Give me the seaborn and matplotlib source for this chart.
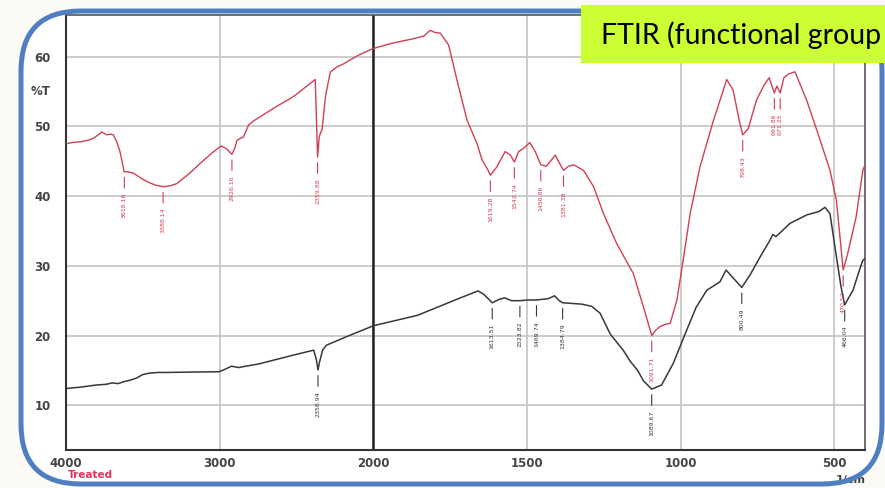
import numpy as np
import pandas as pd
import seaborn as sns
import matplotlib.pyplot as plt
from matplotlib.patches import FancyBboxPatch, Rectangle

# spectrum: wavenumber (1/cm) and %T
red_wn = [4000, 3960, 3909, 3860, 3822, 3790, 3768, 3750, 3735, 3712, 3692, 3670, 3650, 3637,
          3622, 3600, 3561, 3520, 3474, 3420, 3366, 3320, 3279, 3200, 3127, 3050, 2990, 2955,
          2920, 2900, 2888, 2865, 2845, 2812, 2780, 2736, 2650, 2519, 2450, 2378, 2370, 2363,
          2352, 2340, 2334, 2310, 2280, 2240, 2193, 2100, 2000, 1934, 1869, 1835, 1815, 1800,
          1782, 1755, 1728, 1695, 1663, 1646, 1630, 1619, 1598, 1571, 1554, 1541, 1527, 1510,
          1491, 1473, 1455, 1437, 1420, 1408, 1395, 1381, 1365, 1348, 1316, 1283, 1251, 1208,
          1154, 1121, 1094, 1080, 1067, 1050, 1034, 1012, 990, 969, 937, 893, 870, 850, 829,
          810, 798, 780, 753, 730, 712, 695, 687, 676, 664, 650, 628, 590, 546, 514, 493, 480,
          471, 456, 429, 407, 400]
red_T = [47.5, 47.7, 47.8, 48.0, 48.3, 48.8, 49.2, 49.0, 48.8, 48.9, 48.8, 47.8, 46.5, 45.2,
         43.5, 43.5, 43.3, 42.7, 42.1, 41.6, 41.35, 41.5, 41.8, 43.2, 44.7, 46.2, 47.2, 46.8,
         46.0, 47.0, 48.0, 48.3, 48.5, 50.2, 50.8, 51.4, 52.6, 54.3, 55.5, 56.75, 51.0, 45.6,
         48.5, 49.3, 49.5, 54.5, 57.8, 58.5, 59.0, 60.2, 61.2, 62.0, 62.6, 63.0, 63.8, 63.5,
         63.4, 61.7, 56.7, 50.9, 47.6, 45.2, 44.0, 43.0, 44.2, 46.4, 45.9, 44.9, 46.4, 46.9,
         47.7, 46.4, 44.5, 44.3, 45.2, 45.9, 44.8, 43.7, 44.3, 44.5, 43.7, 41.35, 37.5, 33.2,
         28.9, 24.1, 20.0, 20.8, 21.3, 21.6, 21.75, 25.1, 31.3, 37.5, 44.2, 50.9, 54.0, 56.75, 55.2,
         51.0, 48.8, 49.7, 53.8, 55.8, 57.0, 54.8, 55.8, 54.8, 57.0, 57.5, 57.85, 53.8, 48.05, 43.7, 39.4, 33.5,
         29.4, 31.8, 37.0, 43.7, 44.5]

black_wn = [4000, 3900, 3853, 3800, 3737, 3700, 3660, 3620, 3580, 3540, 3500, 3457, 3400, 3341,
            3200, 3004, 2960, 2923, 2900, 2876, 2830, 2750, 2643, 2500, 2388, 2370, 2360, 2350,
            2330, 2306, 2178, 2000, 1856, 1717, 1659, 1640, 1613, 1590, 1572, 1550, 1523, 1496,
            1469, 1430, 1410, 1395, 1384, 1321, 1290, 1262, 1229, 1187, 1164, 1140, 1121, 1094,
            1062, 1024, 980, 950, 915, 872, 852, 834, 801, 774, 741, 709, 700, 690, 676, 644,
            590, 550, 530, 514, 493, 478, 466, 452, 439, 418, 407, 400]
black_T = [12.4, 12.6, 12.75, 12.9, 13.0, 13.2, 13.1, 13.4, 13.6, 13.9, 14.4, 14.6, 14.7, 14.7,
           14.75, 14.8, 15.2, 15.6, 15.5, 15.4, 15.6, 15.9, 16.5, 17.3, 17.9, 16.5, 15.05, 16.2,
           17.9, 18.6, 19.8, 21.4, 22.9, 25.4, 26.4, 25.9, 24.7, 25.2, 25.4, 25.0, 25.0, 25.1,
           25.1, 25.3, 25.7, 25.0, 24.7, 24.5, 24.2, 23.2, 20.2, 17.9, 16.3, 15.0, 13.5, 12.3,
           12.9, 16.0, 20.8, 24.0, 26.5, 27.7, 29.4, 28.5, 26.9, 28.7, 31.3, 33.7, 34.5, 34.2, 34.75, 36.1,
           37.3, 37.8, 38.4, 37.5, 31.3, 27.0, 24.4, 25.5, 26.5, 29.4, 30.8, 31.0]

# peak labels
red_peak_wn = [3620, 3368, 2920, 2363, 1619, 1541, 1455, 1381, 1094, 798, 695, 676, 471]
red_peak_T = [43.5, 41.35, 46.0, 45.6, 43.0, 44.9, 44.5, 43.7, 20.0, 48.8, 54.8, 54.8, 29.4]
red_peak_txt = ["3618.16", "3388.14", "2926.16", "2359.88", "1619.28", "1542.74", "1456.86",
                "1381.38", "1091.71", "798.43", "691.86", "671.25", "470.52"]
black_peak_wn = [2360, 1613, 1523, 1469, 1384, 1094, 801, 466]
black_peak_T = [15.05, 24.7, 25.0, 25.1, 24.7, 12.3, 26.9, 24.4]
black_peak_txt = ["2358.94", "1613.51", "1523.82", "1469.74", "1384.79", "1089.67", "800.49", "466.04"]

x_major = [4000, 3000, 2000, 1500, 1000, 500]
y_major = [10, 20, 30, 40, 50, 60]

red = "#d23f55"
black = "#383838"

sns.set_style("white")
plt.rcParams["font.family"] = ["DejaVu Sans"]

fig = plt.figure(figsize=(8.85, 4.88), dpi=100, facecolor="#fcfaf5")

# slide frame
fill = FancyBboxPatch((0.21, 0.04), 8.61, 4.73, boxstyle="round,pad=0,rounding_size=0.6",
                      transform=fig.dpi_scale_trans, facecolor="white", edgecolor="none", zorder=-2)
fig.add_artist(fill)

ax = fig.add_axes([66 / 885, 1 - 450 / 488, 799 / 885, 435 / 488])
ax.set_facecolor("white")


# spectrometer axis: scale doubles below 2000 1/cm
def fwd(x):
    x = np.asarray(x, dtype=float)
    return np.where(x >= 2000, x, 2 * x - 2000)


def inv(u):
    u = np.asarray(u, dtype=float)
    return np.where(u >= 2000, u, (u + 2000) / 2)


ax.set_xscale("function", functions=(fwd, inv))

df_red = pd.DataFrame({"wn": red_wn, "T": red_T})
df_black = pd.DataFrame({"wn": black_wn, "T": black_T})
sns.lineplot(data=df_red, x="wn", y="T", color=red, lw=1.0, estimator=None, sort=False, ax=ax, zorder=3)
sns.lineplot(data=df_black, x="wn", y="T", color=black, lw=1.1, estimator=None, sort=False, ax=ax, zorder=3)

ax.set_xlim(4000, 400)
ax.set_ylim(3.57, 66)

ax.set_xticks(x_major)
ax.set_xticklabels([str(v) for v in x_major])
ax.set_xticks(list(range(3800, 2000, -200)) + list(range(1900, 400, -100)), minor=True)
ax.set_yticks(y_major)
ax.set_yticks(list(range(4, 67, 2)), minor=True)

ax.tick_params(axis="x", which="both", direction="inout", length=6, width=1.2, color="#444",
               labelsize=8.5, labelcolor="#444", pad=2)
ax.tick_params(axis="y", which="major", direction="out", length=9, width=1.2, color="#444",
               labelsize=8.5, labelcolor="#444", pad=2)
ax.tick_params(axis="y", which="minor", direction="out", length=4.5, width=1.0, color="#444")
for lab in ax.get_xticklabels() + ax.get_yticklabels():
    lab.set_fontweight("bold")

ax.grid(True, which="major", color="#c4c4c4", lw=1.2)
ax.axvline(2000, color="#222", lw=1.8, zorder=2)
for side in ["left", "bottom"]:
    ax.spines[side].set_color("#333")
    ax.spines[side].set_linewidth(1.5)
for side in ["top", "right"]:
    ax.spines[side].set_color("#555")
    ax.spines[side].set_linewidth(1.2)
ax.set_xlabel("")
ax.set_ylabel("")

ax.text(-0.02, 55, "%T", transform=ax.get_yaxis_transform(), ha="right", va="center",
        fontsize=8.5, fontweight="bold", color="#444")


def mark(wns, ts, txts, c):
    for w, t, s in zip(wns, ts, txts):
        ax.annotate(s, xy=(w, t), xytext=(0, -15), textcoords="offset points", rotation=90,
                    ha="center", va="top", fontsize=4.5, color=c, zorder=4,
                    arrowprops=dict(arrowstyle="-", color=c, lw=0.8, shrinkA=1, shrinkB=4))


mark(red_peak_wn, red_peak_T, red_peak_txt, red)
mark(black_peak_wn, black_peak_T, black_peak_txt, black)

fig.text(68 / 885, 1 - 475 / 488, "Treated", color="#e8315a", fontsize=7.5, fontweight="bold",
         ha="left", va="center")
fig.text(836 / 885, 1 - 480 / 488, "1/cm", color="#444", fontsize=8, fontweight="bold",
         ha="left", va="center")

border = FancyBboxPatch((0.21, 0.04), 8.61, 4.73, boxstyle="round,pad=0,rounding_size=0.6",
                        transform=fig.dpi_scale_trans, facecolor="none", edgecolor="#4f7fc0",
                        lw=3.6, zorder=5)
fig.add_artist(border)

tag = Rectangle((5.81, 4.25), 3.1, 0.58, transform=fig.dpi_scale_trans,
                facecolor="#ccff33", edgecolor="none", zorder=6)
fig.add_artist(tag)
fig.text(601 / 885, 1 - 35 / 488, "FTIR (functional group", fontsize=20.5, family=["Lato", "DejaVu Sans"],
         color="black", ha="left", va="center", zorder=7)

fig.savefig("out.png", dpi=100, facecolor=fig.get_facecolor())
